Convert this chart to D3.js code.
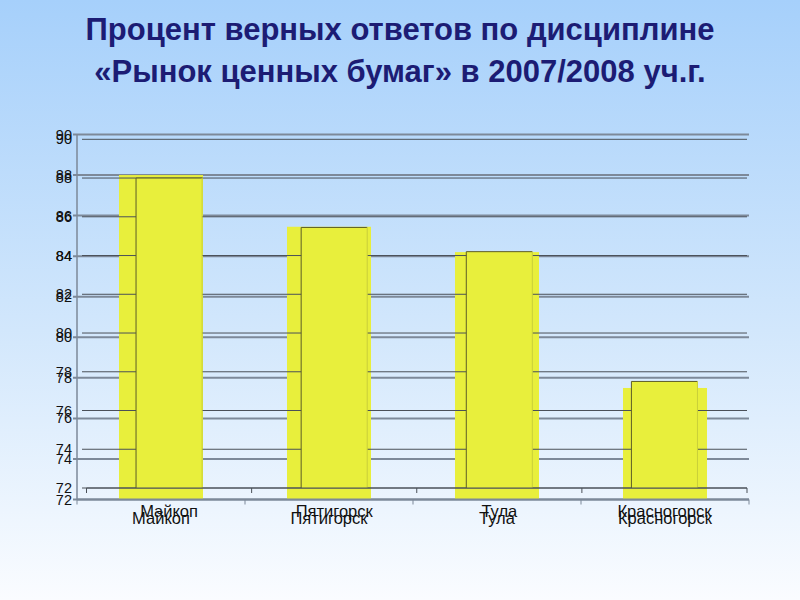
<!DOCTYPE html>
<html><head><meta charset="utf-8">
<script src="https://cdn.jsdelivr.net/npm/d3@7"></script>
<style>html,body{margin:0;padding:0;overflow:hidden;}svg{display:block;}</style>
</head><body>
<script>
const titleLines = ["Процент  верных ответов по дисциплине", "«Рынок ценных бумаг» в 2007/2008 уч.г."];
const categories = ["Майкоп", "Пятигорск", "Тула", "Красногорск"];
const values = [88.0, 85.45, 84.2, 77.5];
const yTicks = [72, 74, 76, 78, 80, 82, 84, 86, 88, 90];

const W = 800, H = 600;
const svg = d3.select("body").append("svg").attr("width", W).attr("height", H);
const defs = svg.append("defs");
const g = defs.append("linearGradient").attr("id", "bg").attr("x1", 0).attr("y1", 0).attr("x2", 0).attr("y2", 1);
g.append("stop").attr("offset", "0%").attr("stop-color", "#a6d0fb");
g.append("stop").attr("offset", "55%").attr("stop-color", "#d2e7fc");
g.append("stop").attr("offset", "100%").attr("stop-color", "#fafcff");
svg.append("rect").attr("width", W).attr("height", H).attr("fill", "url(#bg)");

svg.append("g").selectAll("text").data(titleLines).join("text")
  .attr("x", 400).attr("y", (d, i) => 40 + i * 42)
  .attr("text-anchor", "middle")
  .attr("font-family", "Liberation Sans, Arial, sans-serif")
  .attr("font-weight", "bold").attr("font-size", 31)
  .attr("fill", "#1c1c74")
  .text(d => d);

// Two overlapping copies of the same chart, as in the reference
const layers = [
  { x0: 77, x1: 749, yTop: 134.5, yBot: 499.5, pi: 0.5, po: 0.25, grid: "#7d8999", gw: 2, gx0: 73,
    lblY: 524, axisColor: "#7d8999" },
  { x0: 86.5, x1: 747, yTop: 139.3, yBot: 488, pi: 0.6, po: 0.3, grid: "#4a5058", gw: 1, gx0: 82,
    lblY: 517, axisColor: "#4a5058" }
];

layers.forEach((L, li) => {
  const x = d3.scaleBand().domain(categories).range([L.x0, L.x1]).paddingInner(L.pi).paddingOuter(L.po);
  const y = d3.scaleLinear().domain([72, 90]).range([L.yBot, L.yTop]);
  const lay = svg.append("g");

  lay.append("g").selectAll("line").data(yTicks).join("line")
    .attr("x1", L.gx0).attr("x2", L.x1)
    .attr("y1", d => y(d)).attr("y2", d => y(d))
    .attr("stroke", L.grid).attr("stroke-width", L.gw);

  lay.append("g").selectAll("text").data(yTicks).join("text")
    .attr("x", 72).attr("y", d => y(d) + 5)
    .attr("text-anchor", "end")
    .attr("font-family", "Liberation Sans, Arial, sans-serif").attr("font-size", 14.5)
    .attr("fill", "#111").text(d => d);

  if (li === 0) {
    lay.append("line").attr("x1", L.x0).attr("x2", L.x0).attr("y1", L.yTop).attr("y2", L.yBot)
      .attr("stroke", L.axisColor).attr("stroke-width", 1.5);
  }

  lay.append("g").selectAll("rect").data(values).join("rect")
    .attr("x", (d, i) => x(categories[i]))
    .attr("width", x.bandwidth())
    .attr("y", d => y(d))
    .attr("height", d => y(72) - y(d))
    .attr("fill", "#e8ef3c");

  if (li === 1) {
    lay.append("g").selectAll("path").data(values).join("path")
      .attr("d", (d, i) => {
        const bx = x(categories[i]), bw = x.bandwidth();
        return `M${bx},${y(72)}V${y(d)}H${bx + bw}`;
      })
      .attr("fill", "none").attr("stroke", "#5d5d28").attr("stroke-width", 1);
    lay.append("g").selectAll("line").data(values).join("line")
      .attr("x1", (d, i) => x(categories[i]) + x.bandwidth()).attr("x2", (d, i) => x(categories[i]) + x.bandwidth())
      .attr("y1", d => y(d)).attr("y2", y(72))
      .attr("stroke", "#c9cf3a").attr("stroke-width", 1);
  }

  lay.append("line").attr("x1", L.x0).attr("x2", L.x1).attr("y1", L.yBot).attr("y2", L.yBot)
    .attr("stroke", L.axisColor).attr("stroke-width", L.gw);
  const bounds = [L.x0].concat(categories.map(c => x(c) + x.bandwidth() + x.step() * L.pi / 2));
  bounds[bounds.length - 1] = L.x1;
  lay.append("g").selectAll("line").data(bounds).join("line")
    .attr("x1", d => d).attr("x2", d => d)
    .attr("y1", L.yBot).attr("y2", L.yBot + 5)
    .attr("stroke", L.axisColor).attr("stroke-width", 1);

  lay.append("g").selectAll("text").data(categories).join("text")
    .attr("x", d => x(d) + x.bandwidth() / 2).attr("y", L.lblY)
    .attr("text-anchor", "middle")
    .attr("font-family", "Liberation Sans, Arial, sans-serif").attr("font-size", 16.5)
    .attr("fill", "#111").text(d => d);
});
</script>
</body></html>
